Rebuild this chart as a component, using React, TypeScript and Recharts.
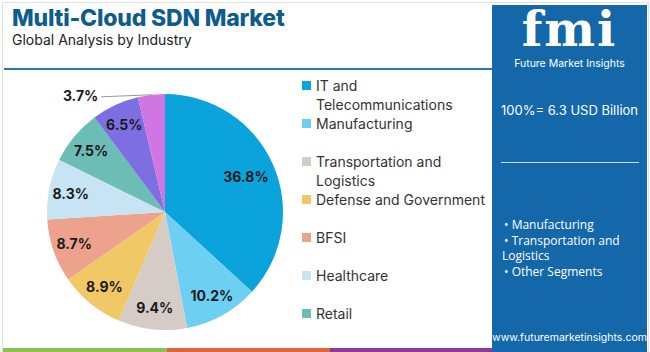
import { PieChart, Pie, Cell, Legend } from "recharts";

const segments = [
  "IT and Telecommunications",
  "Manufacturing",
  "Transportation and Logistics",
  "Defense and Government",
  "BFSI",
  "Healthcare",
  "Retail",
  "Others A",
  "Others B",
];
const shares = [36.8, 10.2, 9.4, 8.9, 8.7, 8.3, 7.5, 6.5, 3.7];
const colors = [
  "#0aa3dc",
  "#6dcff2",
  "#d6ccc7",
  "#f0c866",
  "#eca28c",
  "#c6e4f4",
  "#6cbdb6",
  "#7d6fe2",
  "#d075e2",
];
// legend only lists the first seven, wrapped like the original
const legendLines = [
  ["IT and", "Telecommunications"],
  ["Manufacturing"],
  ["Transportation and", "Logistics"],
  ["Defense and Government"],
  ["BFSI"],
  ["Healthcare"],
  ["Retail"],
];
const sideBullets = ["Manufacturing", "Transportation and", "Logistics", "Other Segments"];

const data = segments.map((name, i) => ({ name, value: shares[i] }));

const RAD = Math.PI / 180;
const FONT = "Inter, 'Open Sans', sans-serif";

function SliceLabel(props: any) {
  const { cx, cy, midAngle, outerRadius, value, percent } = props;
  if (percent < 0.05) {
    // small slice: leader line off to the left
    const ex = cx + outerRadius * Math.cos(-midAngle * RAD);
    const ey = cy + outerRadius * Math.sin(-midAngle * RAD);
    return (
      <g>
        <polyline points={`${ex},${ey} ${ex - 50},${ey + 2}`} fill="none" stroke="#999" strokeWidth={1} />
        <text x={ex - 53} y={ey + 1} textAnchor="end" dominantBaseline="central" fill="#1a1a1a" fontSize={14} fontWeight={700} fontFamily={FONT}>
          {value}%
        </text>
      </g>
    );
  }
  const r = outerRadius * (percent > 0.3 ? 0.75 : 0.815);
  const x = cx + r * Math.cos(-midAngle * RAD);
  const y = cy + r * Math.sin(-midAngle * RAD);
  return (
    <text x={x} y={y} textAnchor="middle" dominantBaseline="central" fill="#1a1a1a" fontSize={14} fontWeight={700} fontFamily={FONT}>
      {value}%
    </text>
  );
}

function LegendBox() {
  return (
    <div style={{ fontFamily: FONT, fontSize: 14, color: "#333", lineHeight: "19px" }}>
      {legendLines.map((lines, i) => (
        <div key={i} style={{ display: "flex", alignItems: "flex-start", height: 38 }}>
          <span style={{ width: 9, height: 9, background: colors[i], marginTop: 5, marginRight: 5, flexShrink: 0 }} />
          <div>
            {lines.map((l) => (
              <div key={l}>{l}</div>
            ))}
          </div>
        </div>
      ))}
    </div>
  );
}

export default function App() {
  return (
    <div style={{ position: "absolute", left: 0, top: 0, width: 650, height: 352, background: "#fff", overflow: "hidden", fontFamily: FONT }}>
      <div style={{ position: "absolute", left: 2, top: 2, width: 645, height: 348, border: "1px solid #e2e2e2" }} />
      <div style={{ position: "absolute", left: 12, top: 4, fontSize: 23, fontWeight: 800, color: "#0e5c8e", letterSpacing: -0.2 }}>
        Multi-Cloud SDN Market
      </div>
      <div style={{ position: "absolute", left: 12, top: 31, fontSize: 14, color: "#222" }}>Global Analysis by Industry</div>
      <div style={{ position: "absolute", left: 4, top: 68, width: 488, height: 2, background: "#2b78ae" }} />

      <div style={{ position: "absolute", left: 0, top: 0 }}>
        <PieChart width={492} height={352}>
          <Pie
            data={data}
            dataKey="value"
            nameKey="name"
            cx={160}
            cy={207}
            outerRadius={118}
            startAngle={90}
            endAngle={-270}
            stroke="none"
            label={SliceLabel}
            labelLine={false}
            isAnimationActive={false}
          >
            {data.map((d, i) => (
              <Cell key={d.name} fill={colors[i]} />
            ))}
          </Pie>
          <Legend
            layout="vertical"
            content={() => <LegendBox />}
            wrapperStyle={{ position: "absolute", left: 302, top: 76, width: 190 }}
          />
        </PieChart>
      </div>

      <div style={{ position: "absolute", left: 3, top: 348, width: 164, height: 4, background: "#8cc152" }} />
      <div style={{ position: "absolute", left: 167, top: 348, width: 163, height: 4, background: "#e0663a" }} />
      <div style={{ position: "absolute", left: 330, top: 348, width: 164, height: 4, background: "#8e3a96" }} />

      <div style={{ position: "absolute", left: 492, top: 5, width: 155, height: 347, background: "#1467a8", color: "#fff" }}>
        <div style={{ position: "absolute", left: 0, width: 155, top: -4, textAlign: "center", fontFamily: "'DejaVu Serif', serif", fontWeight: 700, fontSize: 48, lineHeight: "56px", letterSpacing: 2 }}>
          fmi
        </div>
        <div style={{ position: "absolute", left: 0, width: 155, top: 52, textAlign: "center", fontSize: 10.5, lineHeight: "13px" }}>Future Market Insights</div>
        <div style={{ position: "absolute", left: 0, width: 155, top: 97, textAlign: "center", fontSize: 13, whiteSpace: "nowrap" }}>100%= 6.3 USD Billion</div>
        <div style={{ position: "absolute", left: 9, top: 157, width: 138, height: 1, background: "#c9dcec" }} />
        <div style={{ position: "absolute", left: 12, top: 212, fontSize: 12, lineHeight: "15.5px", fontFamily: "'Open Sans', sans-serif", whiteSpace: "nowrap" }}>
          <div>• {sideBullets[0]}</div>
          <div>• {sideBullets[1]}</div>
          <div style={{ marginLeft: -2 }}>{sideBullets[2]}</div>
          <div>• {sideBullets[3]}</div>
        </div>
        <div style={{ position: "absolute", left: 0, width: 155, top: 326, textAlign: "center", fontSize: 10.5 }}>www.futuremarketinsights.com</div>
      </div>
    </div>
  );
}
